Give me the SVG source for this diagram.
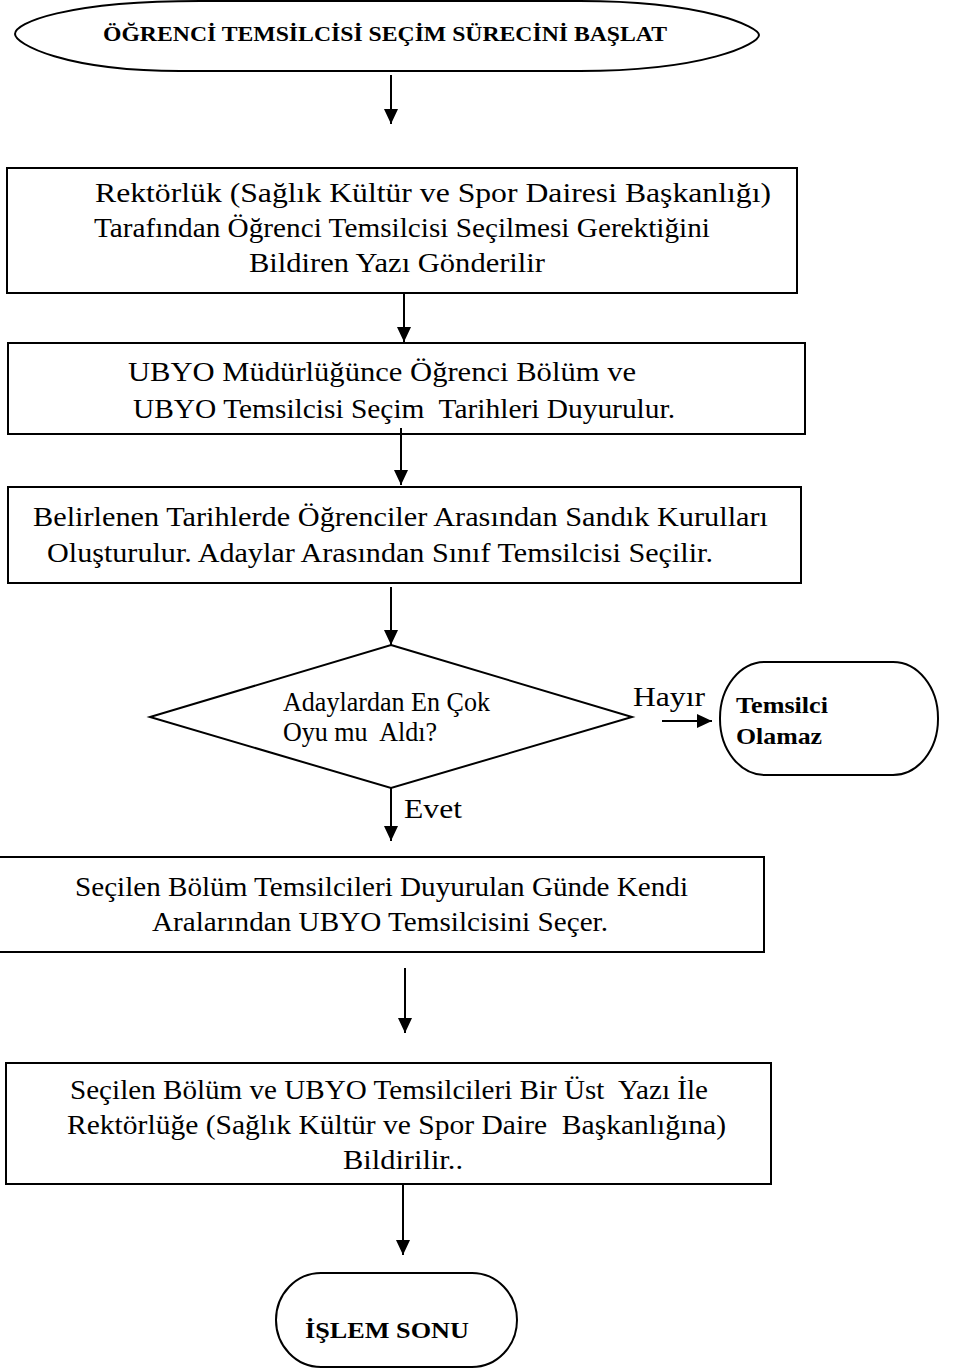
<svg xmlns="http://www.w3.org/2000/svg" width="955" height="1368" viewBox="0 0 955 1368">
  <style>
    .shape { fill: #ffffff; stroke: #000000; stroke-width: 2; }
    .txt { font-family: "Liberation Serif", "Times New Roman", serif; font-size: 27.5px; fill: #000000; }
    .bold { font-family: "Liberation Serif", "Times New Roman", serif; font-weight: bold; fill: #000000; }
    .conn { stroke: #000000; stroke-width: 2; fill: none; marker-end: url(#head); }
  </style>
  <defs>
    <marker id="head" viewBox="0 0 15 14" refX="15" refY="7" markerWidth="15" markerHeight="14" markerUnits="userSpaceOnUse" orient="auto">
      <path d="M0 0 L15 7 L0 14 Z" fill="#000000"/>
    </marker>
  </defs>
  <rect width="955" height="1368" fill="#ffffff"/>

  <!-- start terminator -->
  <g id="start">
    <path class="shape" d="M200 1 L580 1 C705 1 759 27 759 35 C759 44 705 71 580 71 L180 71 C65 71 15 44 15 34 C15 23 65 1 200 1 Z"/>
    <text class="bold" font-size="22" x="103" y="41" textLength="564" lengthAdjust="spacingAndGlyphs">ÖĞRENCİ TEMSİLCİSİ SEÇİM SÜRECİNİ BAŞLAT</text>
  </g>

  <!-- process 1 -->
  <g id="box1">
    <rect class="shape" x="7" y="168" width="790" height="125"/>
    <text class="txt" x="95" y="202" textLength="676" lengthAdjust="spacingAndGlyphs">Rektörlük (Sağlık Kültür ve Spor Dairesi Başkanlığı)</text>
    <text class="txt" x="94" y="237" textLength="616" lengthAdjust="spacingAndGlyphs">Tarafından Öğrenci Temsilcisi Seçilmesi Gerektiğini</text>
    <text class="txt" x="249" y="272" textLength="296" lengthAdjust="spacingAndGlyphs">Bildiren Yazı Gönderilir</text>
  </g>

  <!-- process 2 -->
  <g id="box2">
    <rect class="shape" x="8" y="343" width="797" height="91"/>
    <text class="txt" x="128" y="381" textLength="508" lengthAdjust="spacingAndGlyphs">UBYO Müdürlüğünce Öğrenci Bölüm ve</text>
    <text class="txt" x="133" y="418" textLength="542" lengthAdjust="spacingAndGlyphs" xml:space="preserve">UBYO Temsilcisi Seçim  Tarihleri Duyurulur.</text>
  </g>

  <!-- process 3 -->
  <g id="box3">
    <rect class="shape" x="8" y="487" width="793" height="96"/>
    <text class="txt" x="33" y="526" textLength="735" lengthAdjust="spacingAndGlyphs">Belirlenen Tarihlerde Öğrenciler Arasından Sandık Kurulları</text>
    <text class="txt" x="47" y="562" textLength="666" lengthAdjust="spacingAndGlyphs">Oluşturulur. Adaylar Arasından Sınıf Temsilcisi Seçilir.</text>
  </g>

  <!-- decision -->
  <g id="decision">
    <path class="shape" d="M391 645 L632 717 L391 788 L150 717 Z"/>
    <text class="txt" font-size="23" x="283" y="711" textLength="207" lengthAdjust="spacingAndGlyphs">Adaylardan En Çok</text>
    <text class="txt" font-size="23" x="283" y="741" textLength="154" lengthAdjust="spacingAndGlyphs" xml:space="preserve">Oyu mu  Aldı?</text>
  </g>

  <!-- rejection terminator -->
  <g id="reject">
    <rect class="shape" x="720" y="662" width="218" height="113" rx="45" ry="56"/>
    <text class="bold" font-size="23" x="736" y="713" textLength="92" lengthAdjust="spacingAndGlyphs">Temsilci</text>
    <text class="bold" font-size="23" x="736" y="744" textLength="86" lengthAdjust="spacingAndGlyphs">Olamaz</text>
  </g>

  <!-- process 4 -->
  <g id="box4">
    <rect class="shape" x="-5" y="857" width="769" height="95"/>
    <text class="txt" x="75" y="896" textLength="613" lengthAdjust="spacingAndGlyphs">Seçilen Bölüm Temsilcileri Duyurulan Günde Kendi</text>
    <text class="txt" x="152" y="931" textLength="456" lengthAdjust="spacingAndGlyphs">Aralarından UBYO Temsilcisini Seçer.</text>
  </g>

  <!-- process 5 -->
  <g id="box5">
    <rect class="shape" x="6" y="1063" width="765" height="121"/>
    <text class="txt" x="70" y="1099" textLength="638" lengthAdjust="spacingAndGlyphs" xml:space="preserve">Seçilen Bölüm ve UBYO Temsilcileri Bir Üst  Yazı İle</text>
    <text class="txt" x="67" y="1134" textLength="659" lengthAdjust="spacingAndGlyphs" xml:space="preserve">Rektörlüğe (Sağlık Kültür ve Spor Daire  Başkanlığına)</text>
    <text class="txt" x="343" y="1169" textLength="120" lengthAdjust="spacingAndGlyphs">Bildirilir..</text>
  </g>

  <!-- end terminator -->
  <g id="end">
    <rect class="shape" x="276" y="1273" width="241" height="94" rx="45" ry="47"/>
    <text class="bold" font-size="24" x="305" y="1338" textLength="164" lengthAdjust="spacingAndGlyphs">İŞLEM SONU</text>
  </g>

  <!-- connectors -->
  <g id="connectors">
    <line class="conn" x1="391" y1="75" x2="391" y2="124"/>
    <line class="conn" x1="404" y1="293" x2="404" y2="342"/>
    <line class="conn" x1="401" y1="428" x2="401" y2="485"/>
    <line class="conn" x1="391" y1="587" x2="391" y2="645"/>
    <line class="conn" x1="391" y1="788" x2="391" y2="841"/>
    <line class="conn" x1="662" y1="721" x2="712" y2="721"/>
    <line class="conn" x1="405" y1="968" x2="405" y2="1033"/>
    <line class="conn" x1="403" y1="1184" x2="403" y2="1255"/>
    <text class="txt" font-size="28" x="633" y="706" textLength="72" lengthAdjust="spacingAndGlyphs">Hayır</text>
    <text class="txt" font-size="28" x="404" y="818" textLength="58" lengthAdjust="spacingAndGlyphs">Evet</text>
  </g>
</svg>
